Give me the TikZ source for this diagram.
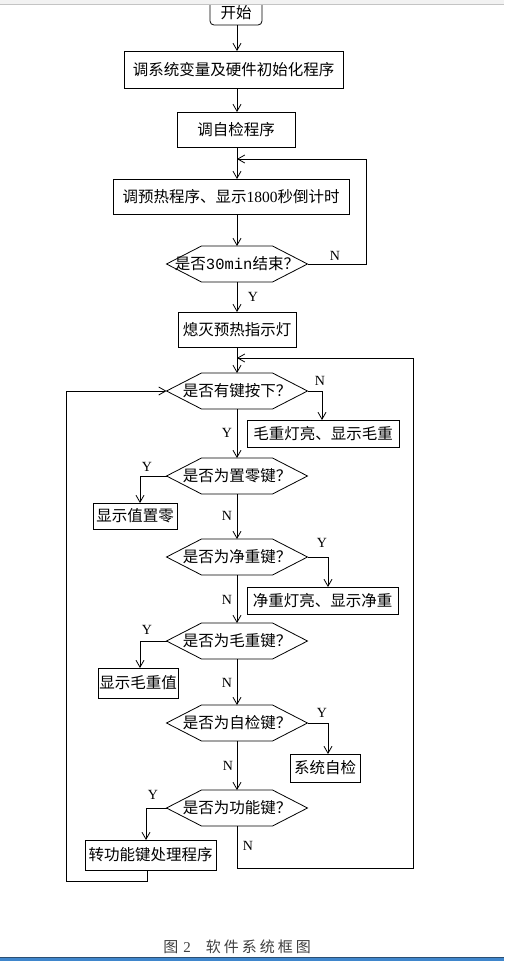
\documentclass[tikz,border=0pt]{standalone}
\usepackage{fontspec}
\setmainfont{Noto Sans CJK SC}
\newfontfamily\lserif{Liberation Serif}
\newfontfamily\lmono{Liberation Mono}
\usetikzlibrary{arrows.meta}
\definecolor{capgray}{HTML}{404040}
\definecolor{topbar}{HTML}{F2F2F2}
\definecolor{topline}{HTML}{C4C4C4}
\definecolor{botline}{HTML}{2B4F72}
\definecolor{botblue}{HTML}{3F86CC}
\begin{document}
\begin{tikzpicture}[x=1pt,y=-1pt,
  box/.style={draw=black, line width=0.8pt, inner sep=0pt, outer sep=0pt,
    font=\fontsize{15.5pt}{18pt}\selectfont, align=center},
  dec/.style={inner sep=0pt, outer sep=0pt, minimum width=141pt, minimum height=36pt,
    font=\fontsize{15.5pt}{18pt}\selectfont},
  lab/.style={font=\lserif\fontsize{14pt}{16pt}\selectfont, inner sep=0pt},
  flow/.style={draw=black, line width=0.8pt, -{Straight Barb[length=7pt,width=8pt]}},
  captxt/.style={font=\fontsize{15pt}{18pt}\selectfont, text=capgray, inner sep=0pt}
]
\useasboundingbox (0,0) rectangle (504,961);
\fill[white] (0,0) rectangle (504,961);

% process boxes
\node[box, rounded corners=4pt, minimum width=52pt, minimum height=25pt] (start) at (236,12.5) {开始};
\node[box, minimum width=219pt, minimum height=37pt] (b1) at (233.5,69.5) {调系统变量及硬件初始化程序};
\node[box, minimum width=118pt, minimum height=35pt] (b2) at (236,129.5) {调自检程序};
\node[box, minimum width=236pt, minimum height=35pt] (b3) at (231,196.5) {调预热程序、显示{\lserif 1800}秒倒计时};
\node[box, minimum width=118pt, minimum height=35pt] (b4) at (237,329.5) {熄灭预热指示灯};
\node[box, minimum width=152pt, minimum height=27pt] (b5) at (323,433.5) {毛重灯亮、显示毛重};
\node[box, minimum width=84pt, minimum height=26pt] (b6) at (135,516) {显示值置零};
\node[box, minimum width=151pt, minimum height=27pt] (b7) at (322.5,600.5) {净重灯亮、显示净重};
\node[box, minimum width=80pt, minimum height=30pt] (b8) at (138,683) {显示毛重值};
\node[box, minimum width=70pt, minimum height=28pt] (b9) at (325,768) {系统自检};
\node[box, minimum width=131pt, minimum height=30pt] (b10) at (150.5,855) {转功能键处理程序};

% decisions
\node[dec] (d1) at (237,264) {是否{\lmono 30min}结束？};
\node[dec] (d2) at (237,391) {是否有键按下？};
\node[dec] (d3) at (237,476) {是否为置零键？};
\node[dec] (d4) at (237,557) {是否为净重键？};
\node[dec] (d5) at (237,641) {是否为毛重键？};
\node[dec] (d6) at (237,723) {是否为自检键？};
\node[dec] (d7) at (237,808) {是否为功能键？};
\foreach \n in {d1,d2,d3,d4,d5,d6,d7}
  \draw[line width=0.8pt] (\n.west) -- ([xshift=35pt]\n.north west) -- ([xshift=-35pt]\n.north east)
    -- (\n.east) -- ([xshift=-35pt]\n.south east) -- ([xshift=35pt]\n.south west) -- cycle;

% junction coordinates
\coordinate (j1) at (237,159);
\coordinate (r1) at (366,159);
\coordinate (j2) at (237,358);
\coordinate (r2) at (413,868);
\coordinate (l1) at (66,881);

% connectors
\draw[flow] (d1 |- start.south) -- (d1 |- b1.north);
\draw[flow] (d1 |- b1.south) -- (d1 |- b2.north);
\draw[flow] (d1 |- b2.south) -- (d1 |- b3.north);
\draw[flow] (d1.east) -| (r1) -- (j1);
\draw[flow] (d1 |- b3.south) -- (d1.north);
\draw[flow] (d1.south) -- (b4.north);
\draw[flow] (b4.south) -- (d2.north);
\draw[flow] (d7.south) |- (r2) |- (j2);
\draw[flow] (d2.east) -| ([xshift=-1pt]b5.north);
\draw[flow] (d2.south) -- (d3.north);
\draw[flow] (d3.west) -| ([xshift=5pt]b6.north);
\draw[flow] (d3.south) -- (d4.north);
\draw[flow] (d4.east) -| ([xshift=5.5pt]b7.north);
\draw[flow] (d4.south) -- (d5.north);
\draw[flow] (d5.west) -| ([xshift=2pt]b8.north);
\draw[flow] (d5.south) -- (d6.north);
\draw[flow] (d6.east) -| ([xshift=3pt]b9.north);
\draw[flow] (d6.south) -- (d7.north);
\draw[flow] (d7.west) -| ([xshift=-4.5pt]b10.north);
\draw[flow] ([xshift=-3.5pt]b10.south) |- (l1) |- (d2.west);

% labels
\node[lab] (n1) at (335,256) {N};
\node[lab] (y1) at (253,297) {Y};
\node[lab] (n2) at (320,381) {N};
\node[lab] (y2) at (227,433) {Y};
\node[lab] (y3) at (147,467) {Y};
\node[lab] (n3) at (227,516) {N};
\node[lab] (y4) at (322,543) {Y};
\node[lab] (n4) at (227,600) {N};
\node[lab] (y5) at (147,630) {Y};
\node[lab] (n5) at (227,683) {N};
\node[lab] (y6) at (322,713) {Y};
\node[lab] (n6) at (228,766) {N};
\node[lab] (y7) at (153,795) {Y};
\node[lab] (n7) at (248,846) {N};

% caption
\node[captxt] (caption) at (237,947) {图\hspace{5pt}{\lserif 2}\hspace{15pt}软\hspace{3pt}件\hspace{3pt}系\hspace{3pt}统\hspace{3pt}框\hspace{3pt}图};

% window bars
\fill[topbar] (0,0) rectangle (504,4);
\draw[topline, line width=1pt] (0,4.5) -- (504,4.5);
\fill[botblue] (0,957.5) rectangle (504,961);
\draw[botline, line width=1pt] (0,957.5) -- (504,957.5);
\end{tikzpicture}
\end{document}
